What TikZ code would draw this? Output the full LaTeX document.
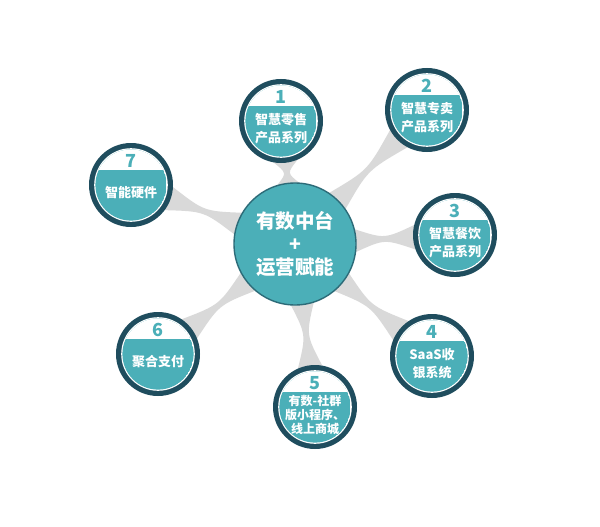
\documentclass[tikz,border=0pt]{standalone}
\usepackage{fontspec}
\setmainfont{Noto Sans CJK SC}
\usetikzlibrary{calc,backgrounds}
\pgfdeclarelayer{paper}
\pgfsetlayers{paper,background,main}
\definecolor{tealA}{HTML}{4BAFB8}
\definecolor{ringC}{HTML}{1F4D5E}
\definecolor{spokeC}{HTML}{D9D9D9}
\definecolor{clineC}{HTML}{2C6B78}
\tikzset{
  satring/.style={circle, fill=ringC, minimum size=84pt, inner sep=0pt},
  hub/.style={circle, fill=tealA, draw=clineC, line width=1.4pt, minimum size=122pt, inner sep=0pt,
    text=white, align=center, font=\fontsize{19.5pt}{23.5pt}\selectfont\bfseries},
  numtxt/.style={text=tealA, font=\fontsize{18pt}{18pt}\selectfont\bfseries, inner sep=0pt},
  sattxt/.style={text=white, align=center, font=\fontsize{13pt}{18pt}\selectfont\bfseries, inner sep=0pt},
  sattxtS/.style={text=white, align=center, font=\fontsize{12pt}{14pt}\selectfont\bfseries, inner sep=0pt},
  spokefill/.style={fill=spokeC}
}
\newcommand\satnode[5]{% name, position, number, text, text style
  \node[satring] (#1) at (#2) {};
  \fill[white] (#1.center) circle (36.8pt);
  \begin{scope}
    \clip (#1.center) circle (35.6pt);
    \fill[tealA] (#1.center) circle (35.6pt);
    \fill[white] ($(#1.center)+(-40,-40)$) rectangle ($(#1.center)+(40,-15)$);
  \end{scope}
  \node[numtxt] (#1n) at ($(#1.center)+(0,-24)$) {#3};
  \node[#5] (#1t) at ($(#1.center)+(0,7.5)$) {#4};
}
\newcommand\spokeline[2]{% hub, satellite
  \coordinate (#2m) at ($($(#1.center)!61pt!(#2.center)$)!0.5!($(#2.center)!42pt!(#1.center)$)$);
  \fill[spokefill] ($(#1.center)!61pt!11:(#2.center)$) .. controls (#2m) and (#2m) ..
    ($(#2.center)!42pt!-17:(#1.center)$) -- ($(#2.center)!42pt!17:(#1.center)$)
    .. controls (#2m) and (#2m) .. ($(#1.center)!61pt!-11:(#2.center)$) -- cycle;
}
\begin{document}
\begin{tikzpicture}[x=1pt,y=-1pt]
\begin{pgfonlayer}{paper}
\fill[white] (0,0) rectangle (600,527);
\end{pgfonlayer}
\useasboundingbox (0,0) rectangle (600,527);
\node[hub] (c) at (295,244) {有数中台\\+\\运营赋能};
\satnode{s1}{281,121}{1}{智慧零售\\产品系列}{sattxt}
\satnode{s2}{427,110}{2}{智慧专卖\\产品系列}{sattxt}
\satnode{s3}{455,235}{3}{智慧餐饮\\产品系列}{sattxt}
\satnode{s4}{432,356}{4}{SaaS收\\银系统}{sattxt}
\satnode{s5}{315,407}{5}{有数-社群\\版小程序、\\线上商城}{sattxtS}
\satnode{s6}{158,354}{6}{聚合支付}{sattxt}
\satnode{s7}{131,185}{7}{智能硬件}{sattxt}
\begin{scope}[on background layer]
\foreach \s in {s1,s2,s3,s4,s5,s6,s7} {\spokeline{c}{\s}}
\end{scope}
\end{tikzpicture}
\end{document}
